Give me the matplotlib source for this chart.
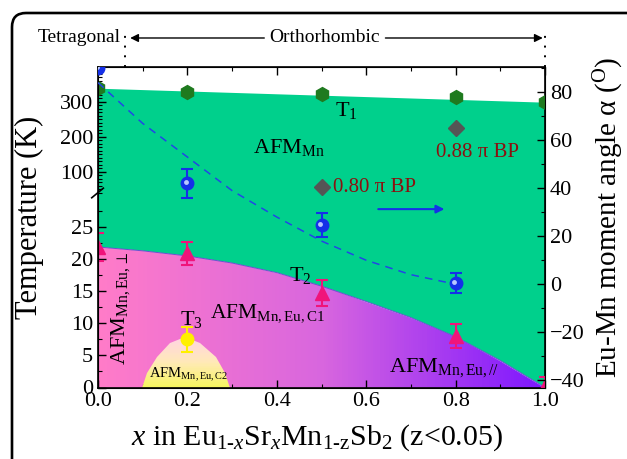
import numpy as np
import matplotlib
matplotlib.use('Agg')
import matplotlib.pyplot as plt
from matplotlib.colors import LinearSegmentedColormap
from matplotlib.patches import Polygon, FancyBboxPatch
from matplotlib.transforms import blended_transform_factory, IdentityTransform, offset_copy

plt.rcParams['font.family'] = 'Liberation Serif'
plt.rcParams['mathtext.fontset'] = 'custom'
plt.rcParams['mathtext.rm'] = 'Liberation Serif'
plt.rcParams['mathtext.it'] = 'Liberation Serif:italic'
plt.rcParams['mathtext.bf'] = 'Liberation Serif:bold'

# --- data ---
# T1 (green hexagons) and upper edge of the AFM_Mn region
x_t1 = [0.0, 0.2, 0.5, 0.8, 1.0]
t1 = [339, 329, 322, 314, 299]
t1_edge_x = [0.0, 1.0]
t1_edge = [338, 298]

# T2 (pink triangles) and the boundary curve
x_t2 = [0.0, 0.2, 0.5, 0.8, 1.0]
t2 = [21.9, 20.9, 14.7, 8.0, 0.3]
t2_err = [2.2, 1.8, 2.0, 1.9, 1.3]
t2_line_x = [0.0, 0.1, 0.2, 0.3, 0.4, 0.5, 0.6, 0.7, 0.8, 0.9, 1.0]
t2_line = [21.9, 21.3, 20.5, 19.4, 17.9, 15.8, 13.4, 10.9, 7.9, 4.2, 0.0]

# T3 (yellow) and the C2 dome
x_t3 = [0.2]
t3 = [7.5]
t3_err = [2.0]
dome_x = [0.098, 0.109, 0.131, 0.161, 0.195, 0.228, 0.265, 0.284, 0.295]
dome_t = [0.0, 2.2, 4.8, 6.9, 7.8, 6.9, 4.8, 2.2, 0.0]

# Eu-Mn moment angle (right axis)
x_alpha = [0.0, 0.2, 0.5, 0.8]
alpha = [90, 42, 24.5, 0.5]
alpha_err = [0, 6, 5, 4]
fit_x = [0.0, 0.1, 0.2, 0.3, 0.4, 0.5, 0.6, 0.7, 0.8]
fit_alpha = [84, 67, 53, 39, 28, 18, 10, 4, 0]

# Berry phase diamonds
bp_x = [0.5, 0.8]
bp_alpha = [40.5, 65]
bp_labels = ['0.80 \u03c0 BP', '0.88 \u03c0 BP']

GREEN = '#00D08C'
x_tet = 0.06

# broken temperature axis: 0-30 K linear, gap, 34-400 K compressed
GAP_LO, GAP_HI, K = 30.0, 34.0, 0.0545

def fwd(t):
    t = np.asarray(t, dtype=float)
    return np.where(t <= GAP_LO, t, GAP_LO + np.maximum(t - GAP_HI, 0) * K)

def inv(f):
    f = np.asarray(f, dtype=float)
    return np.where(f <= GAP_LO, f, GAP_HI + (f - GAP_LO) / K)

fig = plt.figure(figsize=(6.27, 4.59), dpi=100)
ax = fig.add_axes([98/627, 1-387.5/459, 447/627, 320.5/459])
ax.set_yscale('function', functions=(fwd, inv))
ax.set_xlim(0, 1)
ax.set_ylim(0, 400)

# green AFM_Mn region
gx = list(t2_line_x) + t1_edge_x[::-1]
gy = list(t2_line) + t1_edge[::-1]
ax.fill(gx, gy, color=GREEN, lw=0, zorder=1)

# pink -> purple region below T2
pink = Polygon(np.column_stack([[0.0] + t2_line_x + [1.0], [0.0] + t2_line + [0.0]]),
               closed=True, facecolor='none', edgecolor='none', lw=0, zorder=2)
ax.add_patch(pink)
cmap_p = LinearSegmentedColormap.from_list('pk', ['#FF7BC8', '#D866DE', '#7D16FF'])
xs = np.linspace(0, 1, 201)
mesh = ax.pcolormesh(xs, [0, 26], xs[:-1][None, :], cmap=cmap_p, shading='flat', zorder=1.5)
mesh.set_clip_path(pink)
ax.plot(t2_line_x, t2_line, color='#6A4FD0', lw=0.7, zorder=2)

# yellow C2 dome
dome = Polygon(np.column_stack([dome_x, dome_t]), closed=True, facecolor='none', lw=0, zorder=2)
ax.add_patch(dome)
cmap_y = LinearSegmentedColormap.from_list('yl', ['#F6F560', '#FFE9B8', '#FFD3E4'])
ys = np.linspace(0, 8, 41)
dmesh = ax.pcolormesh([0.09, 0.31], ys, ys[:-1][:, None], cmap=cmap_y, shading='flat', zorder=1.8)
dmesh.set_clip_path(dome)

# markers on temperature axis
ax.plot(x_t1, t1, 'h', color='#1F7A1F', ms=10, zorder=5)
ax.errorbar(x_t2, t2, yerr=t2_err, fmt='^', color='#F0147A', ms=10, capsize=4,
            elinewidth=1.5, capthick=1.5, zorder=5)
ax.errorbar(x_t3, t3, yerr=t3_err, fmt='o', color='#FFF000', ms=9, capsize=4,
            elinewidth=1.5, capthick=1.5, zorder=5)

# ticks
ax.set_yticks([0, 5, 10, 15, 20, 25, 100, 200, 300])
ax.set_yticks([2.5, 7.5, 12.5, 17.5, 22.5, 27.5] +
              [v for v in range(40, 400, 10) if v % 100], minor=True)
ax.set_xticks(np.arange(0, 1.01, 0.2))
ax.set_xticks(np.arange(0.1, 1.0, 0.2), minor=True)
ax.set_xticklabels(['0.0', '0.2', '0.4', '0.6', '0.8', '1.0'])
ax.tick_params(which='both', direction='in', top=True, right=False, labelsize=16)
ax.tick_params(which='major', length=6, width=1)
ax.tick_params(which='minor', length=3, width=0.8)
for s in ax.spines.values():
    s.set_linewidth(1.2)

# axis break mark
ax.plot([-0.014, 0.012], [0.592, 0.622], color='k', lw=1.2,
        transform=ax.transAxes, clip_on=False, zorder=6)

ax.set_xlabel(r'$x$ in Eu$_{1\text{-}x}$Sr$_x$Mn$_{\rm 1\text{-}z}$Sb$_2$ (z<0.05)', fontsize=21.5)
ax.xaxis.set_label_coords(0.49, -0.11)
ax.set_ylabel('Temperature (K)', fontsize=22)
ax.yaxis.set_label_coords(-0.12, 0.532)

# region labels
ax.text(0.556, 276, r'T$_1$', fontsize=16, ha='center', va='center', zorder=6)
ax.text(0.347, 155, r'AFM$_{\rm Mn}$', fontsize=16, ha='left', va='baseline', zorder=6)
ax.text(0.452, 17.5, r'T$_2$', fontsize=16, ha='center', va='center', zorder=6)
ax.text(0.25, 11.0, r'AFM$_{\rm Mn,Eu,C1}$', fontsize=15.5, ha='left', va='baseline', zorder=6)
ax.text(0.183, 9.7, r'T$_3$', fontsize=16, ha='left', va='baseline', zorder=6)
ax.text(0.113, 1.4, r'AFM$_{\rm Mn,Eu,C2}$', fontsize=10.5, ha='left', va='baseline', zorder=6)
ax.text(0.05, 3.5, r'AFM$_{\rm Mn,Eu,\perp}$', fontsize=16, rotation=90,
        ha='center', va='bottom', zorder=6)
ax.text(0.65, 2.5, r'AFM$_{\rm Mn,Eu,//}$', fontsize=16, ha='left', va='baseline', zorder=6)

# right axis: moment angle
ax2 = ax.twinx()
ax2.set_ylim(-43, 90.5)
ax2.plot(fit_x, fit_alpha, '--', color='#2246E6', lw=1.1, dashes=(5, 4), zorder=3)
ax2.errorbar(x_alpha, alpha, yerr=alpha_err, fmt='o', color='#1530E8', ms=9, capsize=4,
             elinewidth=1.5, capthick=1.5, zorder=5)
shine = offset_copy(ax2.transData, fig=fig, x=-1.5, y=1.5, units='dots')
ax2.plot(x_alpha, alpha, 'o', color='#B8C8FF', ms=3.5, mec='none', transform=shine, zorder=6)
ax2.plot(bp_x, bp_alpha, 'D', color='#555555', ms=8, zorder=5)
ax2.text(0.525, bp_alpha[0], bp_labels[0], color='#8B1010', fontsize=15, ha='left', va='center')
ax2.text(0.848, 55, bp_labels[1], color='#8B1010', fontsize=15, ha='center', va='center')
ax2.annotate('', xy=(0.775, 31.3), xytext=(0.627, 31.3),
             arrowprops=dict(arrowstyle='-|>', color='#1530E8', lw=1.5,
                             mutation_scale=12, shrinkA=0, shrinkB=0))
ax2.set_yticks(np.arange(-40, 81, 20))
ax2.set_yticks(np.arange(-30, 91, 20), minor=True)
ax2.tick_params(which='both', direction='in', labelsize=16)
ax2.tick_params(which='major', length=6, width=1)
ax2.tick_params(which='minor', length=3, width=0.8)
ax2.set_ylabel('Eu-Mn moment angle \u03b1 ($^{\\rm O}$)', fontsize=21)
ax2.yaxis.set_label_coords(1.105, 0.53)

# structural header
trans = blended_transform_factory(ax.transData, ax.transAxes)
hy = 1.0905
for xv in (x_tet, 1.0):
    ax.plot([xv, xv], [1.0, 1.12], color='k', lw=1.4, ls=(0, (1, 4)),
            transform=trans, clip_on=False)
ax.text(0.05, hy, 'Tetragonal', fontsize=14, ha='right', va='center', transform=trans)
ax.text(0.506, hy, 'Orthorhombic', fontsize=14, ha='center', va='center', transform=trans)
arrow = dict(arrowstyle='-|>', color='k', lw=1.0, mutation_scale=12, shrinkA=0, shrinkB=0)
ax.annotate('', xy=(0.072, hy), xytext=(0.372, hy), xycoords=trans, textcoords=trans,
            arrowprops=arrow, annotation_clip=False)
ax.annotate('', xy=(0.995, hy), xytext=(0.643, hy), xycoords=trans, textcoords=trans,
            arrowprops=arrow, annotation_clip=False)

# rounded frame around the figure
frame = FancyBboxPatch((12, -40), 700, 459 - 13 + 40,
                       boxstyle='round,pad=0,rounding_size=14',
                       facecolor='none', edgecolor='k', lw=1.9,
                       transform=IdentityTransform())
fig.add_artist(frame)

fig.savefig('out.png', dpi=100)
